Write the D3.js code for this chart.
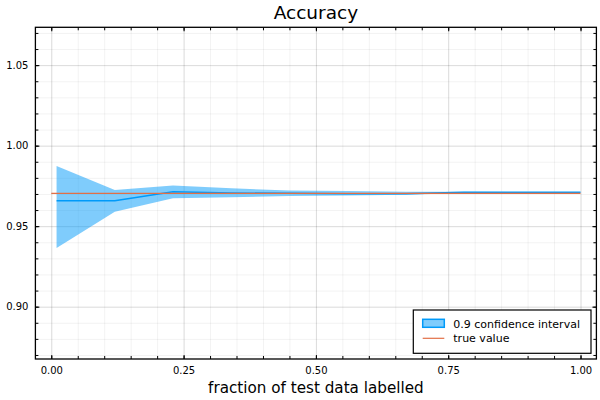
<!DOCTYPE html>
<html>
<head>
<meta charset="utf-8">
<script src="https://cdn.jsdelivr.net/npm/d3@7"></script>
<style>
  body { margin: 0; background: #fff; }
  text { font-family: "DejaVu Sans", sans-serif; fill: #000; }
</style>
</head>
<body>
<script>
// data
var fractions = [0.01, 0.12, 0.23, 0.34, 0.45, 0.56, 0.67, 0.78, 0.89, 1.00];
var mean_acc  = [0.9658, 0.9658, 0.9714, 0.9706, 0.9704, 0.9701, 0.9701, 0.9710, 0.9710, 0.9710];
var lower_acc = [0.9364, 0.9590, 0.9673, 0.9680, 0.9688, 0.9690, 0.9695, 0.9706, 0.9708, 0.9710];
var upper_acc = [0.9873, 0.9725, 0.9753, 0.9735, 0.9722, 0.9718, 0.9713, 0.9714, 0.9712, 0.9710];
var true_x = [0.0, 1.0];
var true_value = 0.9704;

var x_ticks = [0.0, 0.25, 0.5, 0.75, 1.0];
var y_ticks = [0.90, 0.95, 1.00, 1.05];
var x_minor = d3.range(0, 21).map(function(i){ return i * 0.05; });
var y_minor = d3.range(87, 108).map(function(i){ return i / 100; });

var title = "Accuracy";
var x_label = "fraction of test data labelled";
var legend_labels = ["0.9 confidence interval", "true value"];

//layout ("top" is taken by window, hence the prefix)
var width = 600,
    height = 400;
var p_left = 35.4, p_right = 596.4, p_top = 27.3, p_bottom = 359;

var blue = "#009af9",
    orange = "#e26f46";

var x = d3.scaleLinear().domain([-0.03, 1.03]).range([p_left, p_right]);
var y = d3.scaleLinear().domain([0.8675, 1.0735]).range([p_bottom, p_top]);

var svg = d3.select("body").append("svg")
    .attr("width", width)
    .attr("height", height);

svg.append("rect")
    .attr("x", p_left).attr("y", p_top)
    .attr("width", p_right - p_left).attr("height", p_bottom - p_top)
    .attr("fill", "#fff");

// grid lines: minor first, then major
function grid(values_x, values_y, opacity){
  var gx = svg.append("g")
      .attr("transform", "translate(0," + p_bottom + ")")
      .call(d3.axisBottom(x).tickValues(values_x).tickSize(-(p_bottom - p_top)).tickFormat(""));
  var gy = svg.append("g")
      .attr("transform", "translate(" + p_left + ",0)")
      .call(d3.axisLeft(y).tickValues(values_y).tickSize(-(p_right - p_left)).tickFormat(""));
  [gx, gy].forEach(function(g){
    g.select(".domain").remove();
    g.selectAll("line").attr("stroke", "#000").attr("stroke-opacity", opacity).attr("stroke-width", 1);
  });
}
grid(x_minor, y_minor, 0.05);
grid(x_ticks, y_ticks, 0.1);

// ribbon + mean line
var band = d3.area()
    .x(function(d, i){ return x(fractions[i]); })
    .y0(function(d, i){ return y(lower_acc[i]); })
    .y1(function(d, i){ return y(upper_acc[i]); });

svg.append("path")
    .datum(fractions)
    .attr("d", band)
    .attr("fill", blue)
    .attr("fill-opacity", 0.5);

var mean_line = d3.line()
    .x(function(d, i){ return x(fractions[i]); })
    .y(function(d){ return y(d); });

svg.append("path")
    .datum(mean_acc)
    .attr("d", mean_line)
    .attr("fill", "none")
    .attr("stroke", blue)
    .attr("stroke-width", 1.5);

svg.append("path")
    .datum(true_x)
    .attr("d", d3.line().x(function(d){ return x(d); }).y(function(){ return y(true_value); }))
    .attr("fill", "none")
    .attr("stroke", orange)
    .attr("stroke-width", 1.2);

// axes, ticks pointing inward, mirrored on top and right
function style_axis(g){
  g.select(".domain").remove();
  g.selectAll("line").attr("stroke", "#000").attr("stroke-width", 1);
  g.selectAll("text").attr("font-size", 10).attr("font-family", "DejaVu Sans");
}

var fmt = d3.format(".2f");

svg.append("g").attr("transform", "translate(0," + p_bottom + ")")
    .call(d3.axisBottom(x).tickValues(x_minor).tickSize(-3).tickFormat("")).call(style_axis);
svg.append("g").attr("transform", "translate(0," + p_bottom + ")")
    .call(d3.axisBottom(x).tickValues(x_ticks).tickSize(-4).tickPadding(7.5).tickFormat(fmt)).call(style_axis);
svg.append("g").attr("transform", "translate(0," + p_top + ")")
    .call(d3.axisTop(x).tickValues(x_minor).tickSize(-3).tickFormat("")).call(style_axis);
svg.append("g").attr("transform", "translate(0," + p_top + ")")
    .call(d3.axisTop(x).tickValues(x_ticks).tickSize(-4).tickFormat("")).call(style_axis);

svg.append("g").attr("transform", "translate(" + p_left + ",0)")
    .call(d3.axisLeft(y).tickValues(y_minor).tickSize(-3).tickFormat("")).call(style_axis);
svg.append("g").attr("transform", "translate(" + p_left + ",0)")
    .call(d3.axisLeft(y).tickValues(y_ticks).tickSize(-4).tickPadding(7).tickFormat(fmt)).call(style_axis);
svg.append("g").attr("transform", "translate(" + p_right + ",0)")
    .call(d3.axisRight(y).tickValues(y_minor).tickSize(-3).tickFormat("")).call(style_axis);
svg.append("g").attr("transform", "translate(" + p_right + ",0)")
    .call(d3.axisRight(y).tickValues(y_ticks).tickSize(-4).tickFormat("")).call(style_axis);

// frame
svg.append("rect")
    .attr("x", p_left).attr("y", p_top)
    .attr("width", p_right - p_left).attr("height", p_bottom - p_top)
    .attr("fill", "none")
    .attr("stroke", "#000")
    .attr("stroke-width", 1.3);

// titles
svg.append("text")
    .attr("x", (p_left + p_right) / 2).attr("y", 19)
    .attr("text-anchor", "middle")
    .attr("font-size", 18.5)
    .text(title);

svg.append("text")
    .attr("x", (p_left + p_right) / 2).attr("y", 393.3)
    .attr("text-anchor", "middle")
    .attr("font-size", 15.2)
    .text(x_label);

// legend
var lg = svg.append("g");
lg.append("rect")
    .attr("x", 413.3).attr("y", 310)
    .attr("width", 177.7).attr("height", 43.3)
    .attr("fill", "#fff")
    .attr("stroke", "#000")
    .attr("stroke-width", 1.2);

lg.append("rect")
    .attr("x", 422.7).attr("y", 319.3)
    .attr("width", 21.6).attr("height", 8)
    .attr("fill", blue).attr("fill-opacity", 0.5)
    .attr("stroke", blue).attr("stroke-width", 1.5);

lg.append("line")
    .attr("x1", 422.7).attr("x2", 444.3)
    .attr("y1", 338.3).attr("y2", 338.3)
    .attr("stroke", orange).attr("stroke-width", 1.2);

lg.selectAll("text.lab")
    .data(legend_labels)
  .enter().append("text")
    .attr("class", "lab")
    .attr("x", 453.3)
    .attr("y", function(d, i){ return 327.5 + i * 14.3; })
    .attr("font-size", 11)
    .text(function(d){ return d; });
</script>
</body>
</html>
